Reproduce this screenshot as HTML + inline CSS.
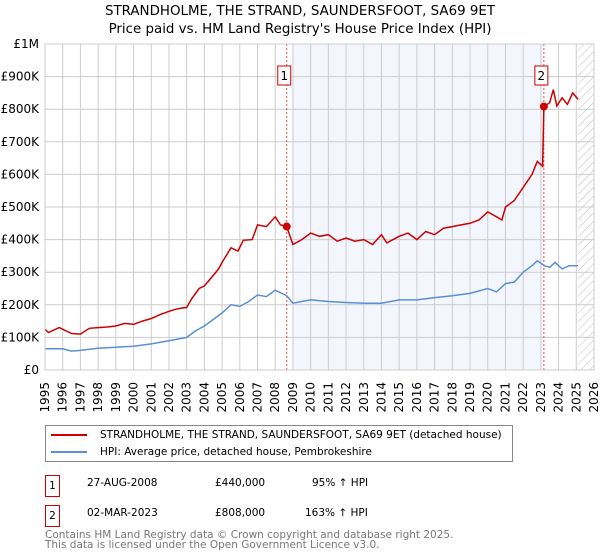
<!DOCTYPE html>
<html><head><meta charset="utf-8"><style>
body{margin:0;background:#fff;font-family:"DejaVu Sans","Liberation Sans",sans-serif;}
#wrap{position:relative;width:600px;height:560px;overflow:hidden;}
.t{position:absolute;white-space:nowrap;font-size:10.5px;color:#000;line-height:12px;}
</style></head><body>
<div id="wrap">
<svg id="chart" width="600" height="420" style="position:absolute;left:0;top:0">
<defs><pattern id="hatch" width="6" height="6" patternUnits="userSpaceOnUse" patternTransform="rotate(45)"><line x1="0" y1="0" x2="0" y2="6" stroke="#bbb" stroke-width="1"/></pattern></defs>
<text x="300" y="15" text-anchor="middle" font-size="13.4">STRANDHOLME, THE STRAND, SAUNDERSFOOT, SA69 9ET</text>
<text x="300" y="33" text-anchor="middle" font-size="13.4">Price paid vs. HM Land Registry's House Price Index (HPI)</text>
<g id="g"></g>
</svg>
<div style="position:absolute;left:45px;top:425px;width:466px;height:35px;border:1px solid #888;">
 <div style="position:absolute;left:5px;top:8px;width:36px;height:2px;background:#cc0000"></div>
 <div class="t" style="left:54px;top:3px">STRANDHOLME, THE STRAND, SAUNDERSFOOT, SA69 9ET (detached house)</div>
 <div style="position:absolute;left:5px;top:25px;width:36px;height:2px;background:#5b8fd4"></div>
 <div class="t" style="left:54px;top:20px">HPI: Average price, detached house, Pembrokeshire</div>
</div>
<div>
 <div class="t" style="left:45px;top:475px;width:13px;height:20px;border:1px solid #cc0000;text-align:center;line-height:20px">1</div>
 <div class="t" style="left:87px;top:477px">27-AUG-2008</div>
 <div class="t" style="left:215px;top:477px">£440,000</div>
 <div class="t" style="left:312px;top:477px">95% ↑ HPI</div>
</div>
<div>
 <div class="t" style="left:45px;top:505px;width:13px;height:20px;border:1px solid #cc0000;text-align:center;line-height:20px">2</div>
 <div class="t" style="left:87px;top:507px">02-MAR-2023</div>
 <div class="t" style="left:215px;top:507px">£808,000</div>
 <div class="t" style="left:305px;top:507px">163% ↑ HPI</div>
</div>
<div class="t" style="left:45px;top:530px;color:#777;line-height:10px;font-size:10.5px">Contains HM Land Registry data © Crown copyright and database right 2025.<br>This data is licensed under the Open Government Licence v3.0.</div>
</div>
<script>
const yTicks=[0,100,200,300,400,500,600,700,800,900,1000];
const yLabels=["£0","£100K","£200K","£300K","£400K","£500K","£600K","£700K","£800K","£900K","£1M"];
const years=[1995,1996,1997,1998,1999,2000,2001,2002,2003,2004,2005,2006,2007,2008,2009,2010,2011,2012,2013,2014,2015,2016,2017,2018,2019,2020,2021,2022,2023,2024,2025,2026];
const redT=[1995,1995.2,1995.8,1996.5,1997,1997.5,1998,1998.5,1999,1999.5,2000,2000.5,2001,2001.5,2002,2002.5,2003,2003.3,2003.7,2004,2004.5,2004.8,2005,2005.5,2005.9,2006.2,2006.7,2007,2007.5,2008,2008.3,2008.65,2009,2009.5,2010,2010.5,2011,2011.5,2012,2012.5,2013,2013.5,2014,2014.3,2015,2015.5,2016,2016.5,2017,2017.5,2018,2018.5,2019,2019.5,2020,2020.5,2020.8,2021,2021.5,2022,2022.5,2022.8,2023.1,2023.17,2023.5,2023.7,2023.9,2024.2,2024.5,2024.8,2025.1];
const redV=[125,115,130,112,110,128,130,132,135,143,140,150,158,170,180,188,192,220,250,258,290,310,330,375,365,398,400,445,440,470,445,440,385,400,420,410,415,395,405,395,400,385,415,390,410,420,400,425,415,435,440,445,450,460,485,470,460,500,520,560,600,640,625,808,820,860,810,835,815,850,830];
const blueT=[1995,1996,1996.5,1997,1998,1999,2000,2001,2002,2003,2003.5,2004,2004.5,2005,2005.5,2006,2006.5,2007,2007.5,2008,2008.65,2009,2009.5,2010,2011,2012,2013,2014,2015,2016,2017,2018,2019,2020,2020.5,2021,2021.5,2022,2022.5,2022.8,2023.2,2023.5,2023.8,2024.2,2024.6,2025.1];
const blueV=[65,65,58,60,67,70,73,80,90,100,120,135,155,175,200,195,210,230,225,245,228,205,210,215,210,207,205,205,215,215,222,228,235,250,240,265,270,300,320,335,320,315,330,310,320,320];
const sales=[[2008.65,440,"1"],[2023.17,808,"2"]];
const L=45,R=594,T=44,B=370;
const X=t=>L+(t-1995)/(2026-1995)*(R-L);
const Y=v=>B-v/1000*(B-T);
const g=document.getElementById('g');const NS="http://www.w3.org/2000/svg";
function el(tag,a,name){const e=document.createElementNS(NS,tag);for(const k in a)e.setAttribute(k,a[k]);


g.appendChild(e);return e;}
el('rect',{x:X(2009),y:T,width:X(2023.17)-X(2009),height:B-T,fill:'#eef3fc',opacity:0.7},'shaded-period');
el('rect',{x:X(2025.1),y:T,width:R-X(2025.1),height:B-T,fill:'url(#hatch)'},'future-hatch');
years.forEach(y=>{el('line',{x1:X(y),x2:X(y),y1:T,y2:B,stroke:'#ccc'},'x-gridline');
const t=el('text',{x:0,y:0,'font-size':12,'text-anchor':'end',transform:`translate(${X(y)+4},${B+12}) rotate(-90)`},'x-tick-label');t.textContent=y;});
yTicks.forEach((v,i)=>{el('line',{x1:L,x2:R,y1:Y(v),y2:Y(v),stroke:'#ccc'},'y-gridline');
const t=el('text',{x:39,y:Y(v)+4,'font-size':12,'text-anchor':'end'},'y-tick-label');t.textContent=yLabels[i];});
sales.forEach(s=>{el('line',{x1:X(s[0]),x2:X(s[0]),y1:T,y2:B,stroke:'#e05050','stroke-dasharray':'2,2'},'sale-marker-line');});
const path=(ts,vs)=>ts.map((t,i)=>(i?'L':'M')+X(t).toFixed(1)+','+Y(vs[i]).toFixed(1)).join('');
el('path',{d:path(blueT,blueV),fill:'none',stroke:'#5b8fd4','stroke-width':1.5},'hpi-line');
el('path',{d:path(redT,redV),fill:'none',stroke:'#cc0000','stroke-width':1.5},'property-price-line');
sales.forEach(s=>{el('circle',{cx:X(s[0]),cy:Y(s[1]),r:4,fill:'#cc0000'},'sale-point');
el('rect',{x:X(s[0])-9,y:66,width:13,height:19,fill:'#fff',stroke:'#cc0000'},'sale-label-box');
const t=el('text',{x:X(s[0])-2.5,y:80,'font-size':12,'text-anchor':'middle'},'sale-label');t.textContent=s[2];});
el('rect',{x:L,y:T,width:R-L,height:B-T,fill:'none',stroke:'#ccc'},'plot-border');
</script>
</body></html>
